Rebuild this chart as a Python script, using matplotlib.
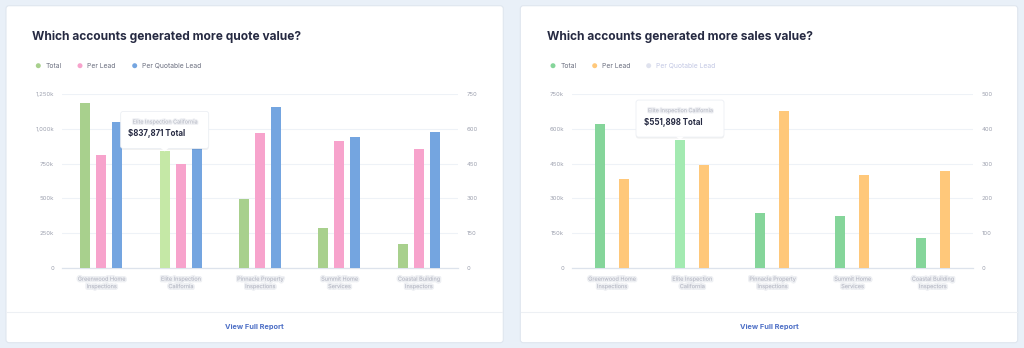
import matplotlib.pyplot as plt
import matplotlib.transforms as mtransforms
import matplotlib.patheffects as pe
from matplotlib.patches import FancyBboxPatch, Circle, Polygon
from matplotlib.lines import Line2D

plt.rcParams['font.family'] = ['Inter', 'DejaVu Sans']

# -----------------------------
# Data
# -----------------------------
accounts = ["Greenwood Home\nInspections", "Elite Inspection\nCalifornia",
            "Pinnacle Property\nInspections", "Summit Home\nServices",
            "Coastal Building\nInspectors"]
series = ["Total", "Per Lead", "Per Quotable Lead"]

quote_total = [1185000, 838000, 493000, 286000, 171000]
quote_per_lead = [486, 449, 583, 548, 513]
quote_per_quotable = [632, 560, 694, 564, 588]

sales_total = [623000, 552000, 236000, 225000, 128000]
sales_per_lead = [257, 296, 451, 267, 279]

quote_left_ticks = [0, 250000, 500000, 750000, 1000000, 1250000]
quote_left_labels = ["0", "250k", "500k", "750k", "1,000k", "1,250k"]
quote_right_ticks = [0, 150, 300, 450, 600, 750]

sales_left_ticks = [0, 150000, 300000, 450000, 600000, 750000]
sales_left_labels = ["0", "150k", "300k", "450k", "600k", "750k"]
sales_right_ticks = [0, 100, 200, 300, 400, 500]

W, H = 1024, 348
BG = "#e9f0f8"
TITLE_C = "#262a42"
TICK_C = "#9ea2b0"
GRID_C = "#eef2f7"
LINK_C = "#4d6fc6"

fig = plt.figure(figsize=(W / 100, H / 100), dpi=100)
fig.patch.set_facecolor(BG)
ident = mtransforms.IdentityTransform()


def add_card(x0, x1, y0, y1):
    # pixel coords measured from the top
    card = FancyBboxPatch((x0, H - y1), x1 - x0, y1 - y0,
                          boxstyle="round,pad=0,rounding_size=3",
                          facecolor="white", edgecolor="#dfe6ef", linewidth=0.8,
                          transform=ident, zorder=0)
    fig.add_artist(card)
    fig.add_artist(Line2D([x0 + 1, x1 - 1], [H - 311.7, H - 311.7], color="#edf0f4",
                          linewidth=0.8, transform=ident))
    fig.text((x0 + x1) / 2 / W, 1 - 326.7 / H, "View Full Report", color=LINK_C,
             fontsize=5.3, fontweight="bold", ha="center", va="center")


def add_legend(entries, y=65.7):
    for x_dot, color, label, tcolor in entries:
        fig.add_artist(Circle((x_dot, H - y), 2.5, facecolor=color, edgecolor="none",
                              transform=ident))
        fig.text((x_dot + 7.2) / W, 1 - y / H, label, color=tcolor, fontsize=4.85,
                 ha="left", va="center")


def make_axes(x0, x1, y_top=94.3, y_zero=267.7):
    ax = fig.add_axes([x0 / W, 1 - y_zero / H, (x1 - x0) / W, (y_zero - y_top) / H])
    ax.set_facecolor("none")
    ax2 = ax.twinx()
    for a in (ax, ax2):
        for s in a.spines.values():
            s.set_visible(False)
        a.tick_params(length=0, labelsize=4.3, labelcolor=TICK_C)
    ax.spines["bottom"].set_visible(True)
    ax.spines["bottom"].set_color("#dde3ec")
    ax.spines["bottom"].set_linewidth(0.9)
    ax.tick_params(axis="y", pad=5.5)
    ax2.tick_params(axis="y", pad=6.2)
    ax.grid(axis="y", color=GRID_C, linewidth=0.8)
    ax.set_axisbelow(True)
    ax.set_xlim(-0.5, len(accounts) - 0.5)
    ax.set_xticks(range(len(accounts)))
    ax.set_xticklabels(accounts, fontsize=4.0, color="#b3b6c2", linespacing=1.6)
    ax.tick_params(axis="x", pad=6.5)
    for lbl in ax.get_xticklabels():
        lbl.set_path_effects([pe.withStroke(linewidth=2.4, foreground="#e4e6ec", alpha=0.6)])
    return ax, ax2


def add_tooltip(ax, x, y, title, value):
    bx, by = ax.transData.transform((x, y))
    bw, bh = 88, 37
    left, bottom = bx - bw / 2, by + 3
    shadow = FancyBboxPatch((left, bottom - 1.5), bw, bh,
                            boxstyle="round,pad=0,rounding_size=2.5",
                            facecolor="#000000", alpha=0.06, edgecolor="none",
                            transform=ident, zorder=5)
    box = FancyBboxPatch((left, bottom), bw, bh, boxstyle="round,pad=0,rounding_size=2.5",
                         facecolor="white", edgecolor="#eceff4", linewidth=0.6,
                         transform=ident, zorder=6)
    tip = Polygon([(bx - 4, bottom + 0.5), (bx + 4, bottom + 0.5), (bx, bottom - 3)],
                  closed=True, facecolor="white", edgecolor="none", transform=ident, zorder=7)
    for p in (shadow, box, tip):
        fig.add_artist(p)
    t1 = fig.text(bx / W, (bottom + bh - 10.6) / H, title, color="#b9bcc6", fontsize=3.9,
                  ha="center", va="center", zorder=8)
    t1.set_path_effects([pe.withStroke(linewidth=1.8, foreground="#e6e8ee", alpha=0.6)])
    fig.text((left + 7.5) / W, (bottom + bh - 22.3) / H, value, color=TITLE_C,
             fontsize=5.7, fontweight="bold", ha="left", va="center", zorder=8)


x = list(range(len(accounts)))

# -----------------------------
# Left card: quote value
# -----------------------------
add_card(6, 503.3, 5.7, 342.7)
fig.text(32 / W, 1 - 36.5 / H, "Which accounts generated more quote value?", color=TITLE_C,
         fontsize=8.6, fontweight="bold", ha="left", va="center")
add_legend([(38.3, "#a8d08d", series[0], "#6c7080"),
            (80.0, "#f7a3cc", series[1], "#6c7080"),
            (134.7, "#74a5e0", series[2], "#6c7080")])

ax, ax2 = make_axes(61.7, 458.3)
bw = 10 / 79.3
off = 16 / 79.3
q_green = ["#c5e8a6" if i == 1 else "#a8d08d" for i in x]
ax.bar([i - off for i in x], quote_total, width=bw, color=q_green, zorder=3)
ax2.bar(x, quote_per_lead, width=bw, color="#f7a3cc", zorder=3)
ax2.bar([i + off for i in x], quote_per_quotable, width=bw, color="#74a5e0", zorder=3)
ax.set_ylim(0, 1250000)
ax.set_yticks(quote_left_ticks)
ax.set_yticklabels(quote_left_labels)
ax2.set_ylim(0, 750)
ax2.set_yticks(quote_right_ticks)
add_tooltip(ax, 1 - off, quote_total[1], "Elite Inspection California",
            "$837,871 Total")

# -----------------------------
# Right card: sales value
# -----------------------------
add_card(520.3, 1017.7, 5.7, 342.7)
fig.text(546.7 / W, 1 - 36.5 / H, "Which accounts generated more sales value?", color=TITLE_C,
         fontsize=8.6, fontweight="bold", ha="left", va="center")
add_legend([(553.0, "#85d59a", series[0], "#6c7080"),
            (594.7, "#ffc87a", series[1], "#6c7080"),
            (648.7, "#dfe2ee", series[2], "#c3c8e4")])

bx_, bx2_ = make_axes(571.7, 972.7)
bw = 10 / 80.2
off = 12 / 80.2
s_green = ["#a3eab1" if i == 1 else "#85d59a" for i in x]
bx_.bar([i - off for i in x], sales_total, width=bw, color=s_green, zorder=3)
bx2_.bar([i + off for i in x], sales_per_lead, width=bw, color="#ffc87a", zorder=3)
bx_.set_ylim(0, 750000)
bx_.set_yticks(sales_left_ticks)
bx_.set_yticklabels(sales_left_labels)
bx2_.set_ylim(0, 500)
bx2_.set_yticks(sales_right_ticks)
add_tooltip(bx_, 1 - off, sales_total[1], "Elite Inspection California",
            "$551,898 Total")

fig.savefig("out.png", dpi=100, facecolor=BG)
